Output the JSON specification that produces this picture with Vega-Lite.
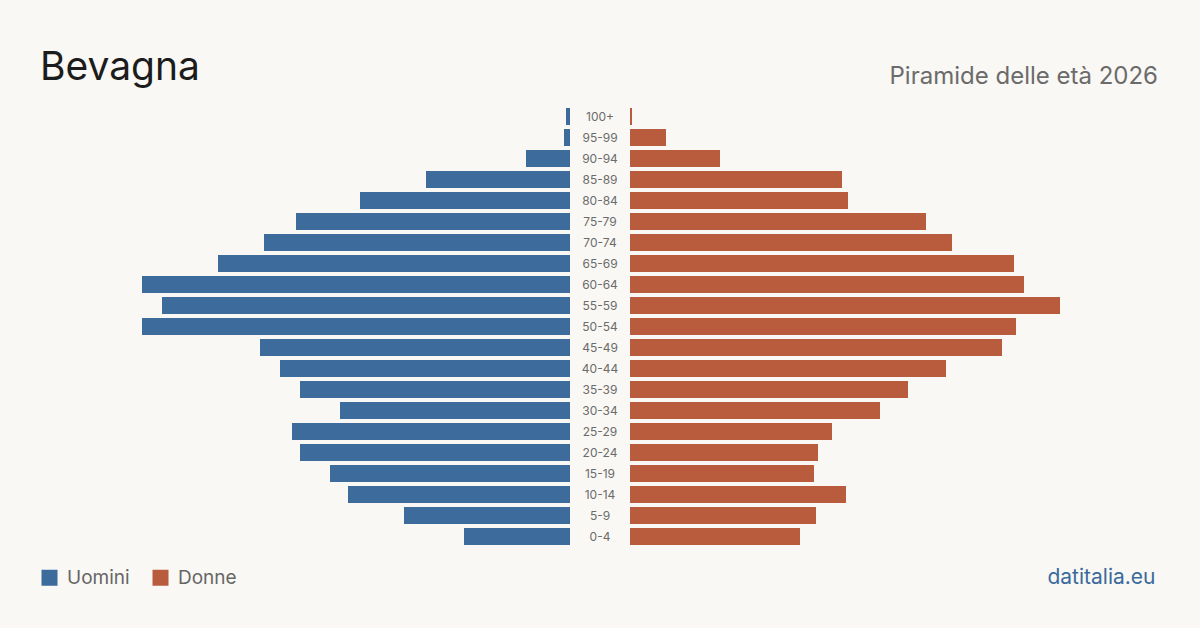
{
  "$schema": "https://vega.github.io/schema/vega-lite/v6.json",
  "background": "#f9f8f4",
  "padding": {"left": 40, "top": 49, "right": 42, "bottom": 40},
  "config": {"view": {"stroke": null}, "font": "Inter"},
  "spacing": 0,
  "bounds": "flush",
  "data": {
    "values": [
      {"eta": "100+", "sesso": "Uomini", "n": 2}, {"eta": "100+", "sesso": "Donne", "n": 1},
      {"eta": "95-99", "sesso": "Uomini", "n": 3}, {"eta": "95-99", "sesso": "Donne", "n": 18},
      {"eta": "90-94", "sesso": "Uomini", "n": 22}, {"eta": "90-94", "sesso": "Donne", "n": 45},
      {"eta": "85-89", "sesso": "Uomini", "n": 72}, {"eta": "85-89", "sesso": "Donne", "n": 106},
      {"eta": "80-84", "sesso": "Uomini", "n": 105}, {"eta": "80-84", "sesso": "Donne", "n": 109},
      {"eta": "75-79", "sesso": "Uomini", "n": 137}, {"eta": "75-79", "sesso": "Donne", "n": 148},
      {"eta": "70-74", "sesso": "Uomini", "n": 153}, {"eta": "70-74", "sesso": "Donne", "n": 161},
      {"eta": "65-69", "sesso": "Uomini", "n": 176}, {"eta": "65-69", "sesso": "Donne", "n": 192},
      {"eta": "60-64", "sesso": "Uomini", "n": 214}, {"eta": "60-64", "sesso": "Donne", "n": 197},
      {"eta": "55-59", "sesso": "Uomini", "n": 204}, {"eta": "55-59", "sesso": "Donne", "n": 215},
      {"eta": "50-54", "sesso": "Uomini", "n": 214}, {"eta": "50-54", "sesso": "Donne", "n": 193},
      {"eta": "45-49", "sesso": "Uomini", "n": 155}, {"eta": "45-49", "sesso": "Donne", "n": 186},
      {"eta": "40-44", "sesso": "Uomini", "n": 145}, {"eta": "40-44", "sesso": "Donne", "n": 158},
      {"eta": "35-39", "sesso": "Uomini", "n": 135}, {"eta": "35-39", "sesso": "Donne", "n": 139},
      {"eta": "30-34", "sesso": "Uomini", "n": 115}, {"eta": "30-34", "sesso": "Donne", "n": 125},
      {"eta": "25-29", "sesso": "Uomini", "n": 139}, {"eta": "25-29", "sesso": "Donne", "n": 101},
      {"eta": "20-24", "sesso": "Uomini", "n": 135}, {"eta": "20-24", "sesso": "Donne", "n": 94},
      {"eta": "15-19", "sesso": "Uomini", "n": 120}, {"eta": "15-19", "sesso": "Donne", "n": 92},
      {"eta": "10-14", "sesso": "Uomini", "n": 111}, {"eta": "10-14", "sesso": "Donne", "n": 108},
      {"eta": "5-9", "sesso": "Uomini", "n": 83}, {"eta": "5-9", "sesso": "Donne", "n": 93},
      {"eta": "0-4", "sesso": "Uomini", "n": 53}, {"eta": "0-4", "sesso": "Donne", "n": 85}
    ]
  },
  "hconcat": [
    {
      "width": 430,
      "height": 441,
      "title": {"text": "Bevagna", "anchor": "start", "frame": "group", "dx": -100, "fontSize": 39, "fontWeight": 400, "color": "#1c1c1c", "baseline": "alphabetic", "offset": -13},
      "transform": [{"filter": "datum.sesso === 'Uomini'"}],
      "mark": {"type": "bar"},
      "encoding": {
        "y": {
          "field": "eta", "type": "nominal",
          "scale": {"domain": ["100+", "95-99", "90-94", "85-89", "80-84", "75-79", "70-74", "65-69", "60-64", "55-59", "50-54", "45-49", "40-44", "35-39", "30-34", "25-29", "20-24", "15-19", "10-14", "5-9", "0-4"], "paddingInner": 0.19, "paddingOuter": 0.095},
          "axis": null
        },
        "x": {"field": "n", "type": "quantitative", "scale": {"domain": [0, 215], "reverse": true}, "axis": null},
        "color": {
          "field": "sesso", "type": "nominal",
          "scale": {"domain": ["Uomini", "Donne"], "range": ["#3c6b9c", "#b95c3d"]},
          "legend": {"orient": "none", "legendX": -100, "legendY": 462, "direction": "horizontal", "title": null, "symbolType": "square", "symbolSize": 256, "symbolStrokeWidth": 0, "symbolOpacity": 1, "labelFontSize": 19, "labelColor": "#666666", "labelOffset": 8, "columnPadding": 21, "padding": 0}
        }
      }
    },
    {
      "width": 60,
      "height": 441,
      "transform": [{"filter": "datum.sesso === 'Donne'"}],
      "mark": {"type": "text", "fontSize": 12, "color": "#6b6b6b"},
      "encoding": {
        "y": {
          "field": "eta", "type": "nominal",
          "scale": {"domain": ["100+", "95-99", "90-94", "85-89", "80-84", "75-79", "70-74", "65-69", "60-64", "55-59", "50-54", "45-49", "40-44", "35-39", "30-34", "25-29", "20-24", "15-19", "10-14", "5-9", "0-4"], "paddingInner": 0.19, "paddingOuter": 0.095},
          "axis": null
        },
        "text": {"field": "eta"}
      }
    },
    {
      "width": 430,
      "height": 441,
      "title": {"text": "Piramide delle età 2026", "anchor": "end", "frame": "group", "dx": 98, "fontSize": 24, "fontWeight": 400, "color": "#6b6b6b", "baseline": "alphabetic", "offset": -2},
      "transform": [{"filter": "datum.sesso === 'Donne'"}],
      "mark": {"type": "bar"},
      "encoding": {
        "y": {
          "field": "eta", "type": "nominal",
          "scale": {"domain": ["100+", "95-99", "90-94", "85-89", "80-84", "75-79", "70-74", "65-69", "60-64", "55-59", "50-54", "45-49", "40-44", "35-39", "30-34", "25-29", "20-24", "15-19", "10-14", "5-9", "0-4"], "paddingInner": 0.19, "paddingOuter": 0.095},
          "axis": null
        },
        "x": {
          "field": "n", "type": "quantitative",
          "scale": {"domain": [0, 215]},
          "axis": {"title": "datitalia.eu", "labels": false, "ticks": false, "domain": false, "grid": false, "titleFontSize": 21, "titleFontWeight": 400, "titleColor": "#3b6a9c", "titleAnchor": "end", "titleAlign": "right", "titleX": 525, "titleY": 36, "titleBaseline": "alphabetic"}
        },
        "color": {"field": "sesso", "type": "nominal"}
      }
    }
  ]
}
